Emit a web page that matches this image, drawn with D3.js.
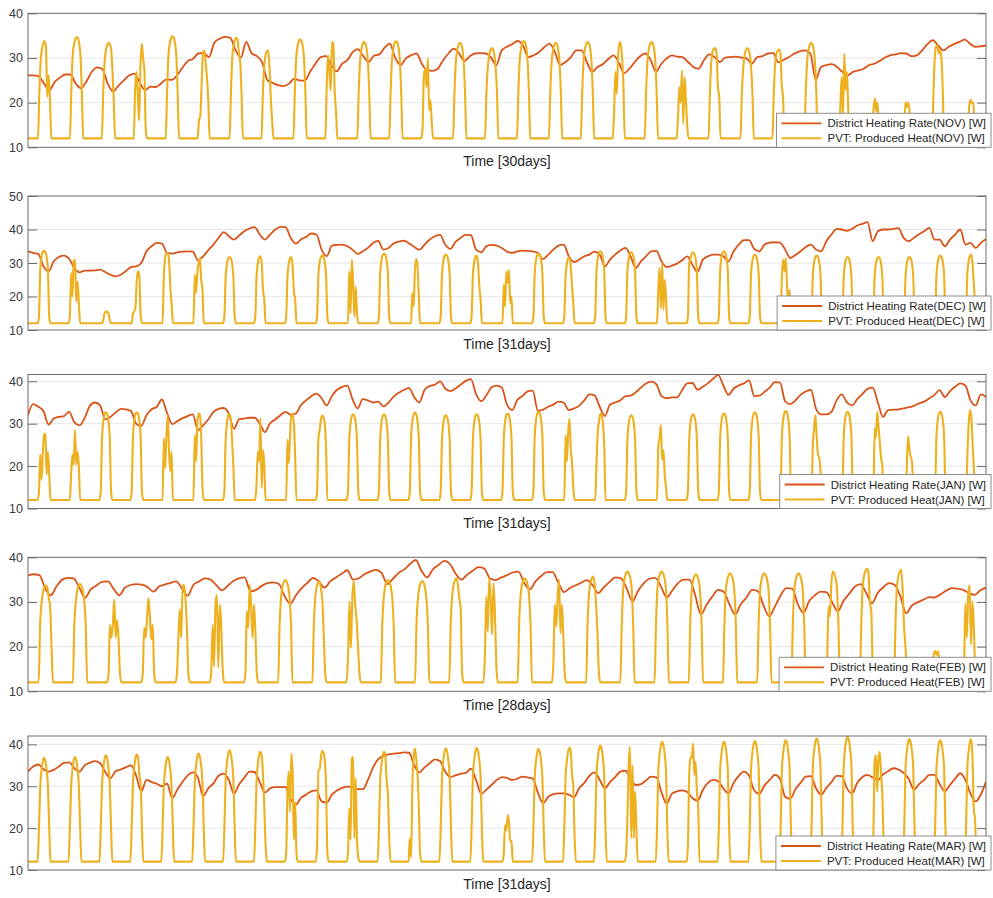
<!DOCTYPE html>
<html>
<head>
<meta charset="utf-8">
<script src="https://cdn.jsdelivr.net/npm/d3@7"></script>
<style>
  html, body { margin: 0; padding: 0; background: #fff; }
  svg { display: block; font-family: "Liberation Sans", Arial, Helvetica, sans-serif; }
</style>
</head>
<body>
<svg id="chart" width="993" height="898"></svg>
<script>
// ---- months shown, one panel each ----
const monthCodes = ["NOV", "DEC", "JAN", "FEB", "MAR"];
const monthDays = [30, 31, 31, 28, 31];
const yUpper = [40, 50, 41.6, 40, 42];
const yTickValues = [
  [10, 20, 30, 40],
  [10, 20, 30, 40, 50],
  [10, 20, 30, 40],
  [10, 20, 30, 40],
  [10, 20, 30, 40]
];

// District heating rate [W], sampled at these hours of every day
const heatSampleHours = [0, 4, 8, 12, 16, 20];

const heatNov = [
  [26.1, 26.1, 25.9, 24.3, 22.8, 24.6], [25.6, 26.3, 26.3, 24.2, 23.2, 24.8],
  [26.9, 27.9, 27.5, 24.2, 22.5, 23.8], [25.0, 26.1, 26.5, 24.5, 22.8, 23.6],
  [23.5, 24.3, 25.2, 25.1, 26.1, 27.8], [29.3, 29.8, 31.0, 31.1, 30.2, 33.4],
  [34.3, 34.7, 34.5, 31.7, 30.1, 33.6], [31.1, 30.4, 29.0, 25.0, 24.4, 23.9],
  [23.7, 24.2, 25.3, 25.0, 24.9, 26.9], [28.7, 30.2, 30.4, 28.4, 27.0, 28.7],
  [29.5, 31.3, 32.0, 30.4, 29.1, 30.5], [30.8, 32.3, 33.2, 30.0, 28.4, 29.9],
  [30.6, 31.0, 28.7, 27.2, 27.1, 27.6], [29.5, 31.0, 32.1, 31.0, 29.3, 30.4],
  [31.0, 31.1, 31.0, 30.1, 28.4, 31.7], [32.5, 33.1, 33.8, 32.8, 30.2, 30.6],
  [31.3, 32.4, 33.2, 31.3, 28.4, 29.1], [30.2, 31.7, 31.7, 29.1, 26.9, 28.0],
  [28.6, 29.7, 30.6, 29.0, 26.6, 27.6], [29.1, 30.4, 31.0, 29.5, 26.9, 28.7],
  [29.9, 30.6, 30.3, 30.2, 29.1, 28.0], [27.6, 29.5, 30.8, 30.2, 29.1, 30.1],
  [30.2, 30.3, 30.1, 29.9, 28.7, 30.2], [30.4, 31.0, 31.1, 29.0, 29.6, 30.2],
  [31.0, 31.5, 31.7, 31.0, 25.1, 28.0], [28.4, 28.6, 28.0, 26.9, 26.1, 26.9],
  [27.2, 27.6, 28.4, 28.7, 29.3, 30.1], [30.6, 30.8, 31.1, 31.0, 30.4, 30.6],
  [31.7, 33.1, 34.0, 32.8, 31.7, 32.5], [33.1, 33.6, 34.1, 33.2, 32.5, 32.6]
];
const heatDec = [
  [33.5, 33.0, 32.7, 29.0, 27.5, 30.5], [31.8, 32.2, 31.2, 28.5, 27.2, 27.7],
  [27.7, 27.8, 28.0, 27.3, 26.5, 26.0], [26.5, 27.6, 28.8, 29.0, 30.0, 33.5],
  [35.0, 36.0, 35.8, 33.0, 32.8, 33.2], [33.4, 33.5, 33.4, 30.8, 32.0, 33.8],
  [35.5, 37.5, 39.2, 38.0, 37.0, 38.2], [39.5, 40.3, 40.7, 38.5, 37.0, 38.5],
  [40.0, 40.8, 40.7, 37.5, 35.8, 37.0], [37.8, 38.8, 38.5, 34.0, 32.0, 35.2],
  [35.4, 35.5, 35.0, 34.0, 32.7, 33.5], [34.5, 36.0, 36.6, 34.0, 34.5, 35.8],
  [36.4, 36.7, 35.8, 34.8, 34.0, 35.5], [37.0, 38.0, 38.4, 35.5, 34.2, 36.3],
  [37.5, 38.4, 38.3, 34.0, 33.2, 35.0], [35.4, 35.2, 34.5, 33.4, 33.0, 33.5],
  [33.7, 33.6, 33.5, 33.0, 31.2, 32.5], [34.0, 35.2, 35.5, 32.0, 30.3, 31.0],
  [32.0, 32.5, 33.4, 32.5, 29.0, 31.0], [32.5, 33.7, 34.5, 32.0, 28.5, 30.5],
  [32.0, 33.5, 33.6, 30.5, 28.8, 29.2], [29.8, 30.8, 32.0, 29.5, 27.3, 31.0],
  [32.0, 32.5, 32.5, 32.0, 30.5, 33.5], [35.5, 36.8, 36.8, 34.2, 33.5, 35.5],
  [36.1, 36.2, 36.1, 34.0, 31.5, 32.4], [33.5, 34.8, 35.5, 34.0, 33.5, 36.5],
  [38.5, 40.2, 40.0, 39.6, 40.2, 41.2], [41.7, 42.2, 36.5, 39.5, 40.0, 40.0],
  [40.2, 40.4, 37.5, 36.5, 37.5, 38.6], [39.5, 40.5, 37.0, 37.0, 35.0, 37.0],
  [38.5, 40.0, 35.5, 36.0, 34.5, 36.0]
];
const heatJan = [
  [32.0, 34.6, 34.0, 33.0, 29.8, 31.2], [31.6, 31.8, 32.8, 30.3, 29.6, 31.3],
  [34.2, 35.0, 34.3, 31.0, 31.6, 32.6], [33.5, 33.4, 33.0, 30.0, 29.5, 32.0],
  [33.4, 34.0, 35.7, 32.5, 29.9, 30.6], [31.3, 31.8, 32.2, 28.5, 29.6, 31.0],
  [32.8, 33.5, 33.7, 32.3, 28.8, 31.1], [31.2, 31.4, 31.4, 30.0, 28.0, 30.1],
  [31.0, 32.0, 32.8, 32.1, 32.4, 34.4], [35.5, 36.5, 37.1, 36.0, 34.3, 36.5],
  [38.0, 38.7, 39.0, 35.8, 33.6, 35.8], [35.5, 35.0, 35.2, 34.1, 35.0, 36.4],
  [37.3, 38.0, 38.4, 36.2, 35.0, 38.0], [38.9, 39.2, 40.0, 38.3, 37.7, 38.3],
  [39.2, 40.1, 40.5, 37.0, 35.3, 36.7], [38.6, 39.0, 38.5, 34.5, 33.2, 35.6],
  [36.5, 37.6, 37.8, 33.0, 33.3, 34.0], [34.5, 35.2, 35.0, 33.2, 33.6, 34.2],
  [35.5, 36.9, 36.7, 34.0, 31.8, 34.5], [35.0, 35.5, 36.5, 36.6, 37.4, 38.5],
  [39.5, 39.9, 39.3, 36.5, 36.0, 36.2], [36.2, 37.9, 39.5, 39.6, 38.0, 38.7],
  [39.5, 40.6, 41.5, 39.0, 36.8, 38.3], [39.0, 39.5, 40.2, 36.5, 36.6, 37.5],
  [38.5, 39.8, 39.7, 35.3, 34.6, 35.5], [36.8, 37.6, 38.0, 33.5, 32.2, 32.2],
  [32.8, 35.5, 36.9, 35.0, 34.3, 35.8], [37.0, 38.2, 38.5, 35.0, 31.6, 33.2],
  [33.3, 33.4, 33.6, 33.9, 34.2, 34.8], [35.2, 36.0, 36.8, 37.9, 36.3, 37.7],
  [38.7, 39.5, 39.0, 35.5, 34.3, 36.9]
];
const heatFeb = [
  [35.9, 36.2, 36.0, 33.1, 31.5, 33.5], [35.0, 35.4, 35.3, 33.2, 30.9, 32.8],
  [33.7, 34.5, 34.6, 33.0, 31.5, 33.2], [33.8, 34.0, 33.9, 33.3, 32.3, 33.5],
  [33.9, 34.3, 34.6, 33.0, 31.4, 33.8], [34.6, 35.3, 35.0, 33.8, 32.6, 33.6],
  [34.7, 35.3, 35.5, 32.4, 32.7, 33.6], [34.2, 34.4, 34.0, 31.3, 29.6, 31.5],
  [33.1, 34.3, 35.4, 34.6, 33.2, 34.6], [35.5, 36.3, 37.1, 35.0, 35.3, 36.2],
  [36.8, 37.2, 36.5, 34.0, 35.2, 36.5], [37.3, 38.5, 39.4, 37.0, 35.5, 37.3],
  [38.3, 39.2, 38.5, 36.3, 35.0, 36.1], [37.0, 37.8, 37.5, 35.3, 34.9, 35.5],
  [36.0, 36.6, 36.8, 34.3, 32.8, 34.6], [35.8, 36.7, 36.7, 34.3, 32.2, 33.1],
  [33.7, 34.3, 34.9, 33.8, 32.0, 33.3], [34.5, 35.5, 35.3, 33.0, 30.2, 32.5],
  [34.2, 35.2, 35.4, 33.5, 31.0, 32.6], [34.2, 35.0, 35.0, 31.5, 27.2, 29.4],
  [31.2, 32.7, 32.3, 29.5, 27.2, 29.5], [31.0, 32.7, 32.4, 29.2, 26.8, 29.0],
  [31.5, 33.1, 33.0, 29.5, 27.6, 30.2], [31.5, 32.3, 32.2, 30.0, 27.9, 30.2],
  [31.8, 33.4, 34.0, 32.0, 29.7, 32.0], [33.3, 34.2, 33.8, 31.2, 27.5, 29.2],
  [29.9, 30.5, 31.1, 31.0, 31.7, 32.5], [33.1, 33.0, 32.7, 32.0, 31.6, 32.6]
];
const heatMar = [
  [33.5, 34.7, 35.2, 34.1, 33.5, 33.9], [34.7, 35.6, 35.7, 34.3, 33.5, 35.0],
  [35.6, 36.0, 35.5, 33.4, 31.9, 33.6], [34.0, 34.5, 35.0, 32.5, 28.8, 31.5],
  [31.0, 30.6, 30.0, 30.6, 27.2, 29.2], [31.0, 32.6, 33.3, 32.0, 27.6, 29.5],
  [30.7, 32.5, 33.0, 31.5, 28.2, 30.5], [32.0, 33.5, 33.4, 31.0, 28.5, 29.5],
  [29.8, 29.8, 29.8, 26.9, 25.6, 27.2], [28.0, 28.8, 29.0, 26.4, 26.1, 28.0],
  [29.0, 29.6, 29.9, 29.8, 29.3, 29.3], [31.5, 34.5, 36.5, 37.2, 37.6, 37.8],
  [37.9, 38.1, 38.0, 35.0, 33.3, 34.5], [35.5, 36.4, 36.0, 33.5, 32.2, 32.6],
  [33.0, 33.2, 34.2, 31.5, 28.2, 29.2], [30.3, 31.5, 32.2, 32.0, 31.5, 31.8],
  [32.3, 32.1, 31.8, 28.5, 25.9, 27.5], [28.1, 28.3, 28.3, 28.0, 27.4, 29.5],
  [30.8, 32.5, 33.3, 31.5, 29.5, 31.0], [32.2, 33.5, 33.7, 31.8, 30.3, 30.5],
  [31.4, 32.3, 32.1, 28.5, 25.8, 28.2], [28.8, 29.0, 28.6, 27.2, 26.5, 29.1],
  [30.8, 31.5, 31.2, 29.5, 28.3, 30.8], [32.5, 33.5, 32.5, 29.0, 28.2, 30.2],
  [31.5, 32.7, 31.8, 27.5, 27.0, 29.3], [30.8, 32.3, 32.4, 29.5, 28.0, 29.6],
  [31.0, 32.5, 32.4, 29.5, 28.3, 30.8], [32.2, 32.7, 32.1, 31.5, 32.8, 33.6],
  [34.3, 34.0, 33.2, 31.8, 29.2, 30.5], [31.5, 32.7, 32.7, 30.5, 28.8, 30.3],
  [31.8, 33.1, 31.5, 28.2, 26.4, 28.0]
];
// value at the very end of each month
const heatMonthEnd = [32.8, 37.2, 36.3, 33.2, 31.1];

// PVT produced heat [W]: night level, and daytime samples at these hours of every day
const pvtNightLevel = 12;
const pvtSampleHours = [8.5, 9.5, 10.5, 11.5, 12.5, 13.5, 14.5, 15.5, 16.5];
const pvtNightHours = [7.5, 17.5];

const pvtNov = [
  [22, 29.3, 32, 33.3, 33.8, 32.5, 21.3, 26.1, 21],
  [22, 30.2, 32.9, 34.2, 34.7, 34.4, 33.2, 30.2, 22],
  [22, 28.9, 31.6, 32.9, 33.4, 33.1, 31.9, 27, 20],
  [22.8, 26.9, 22, 16, 28, 33.2, 30, 27.2, 14],
  [22, 30.4, 33.1, 34.4, 34.9, 34.6, 33.4, 30.4, 22],
  [16, 17, 24, 31, 31.7, 29, 25.7, 20.5, 12],
  [22, 30, 32.7, 34, 34.5, 34.2, 31, 29, 22],
  [22, 28, 30.5, 31.5, 31.7, 28, 20.9, 16, 12],
  [22, 29.7, 32.4, 33.7, 34.2, 33.9, 32.7, 29.7, 22],
  [24, 30.6, 27, 22.8, 33.6, 33, 22.7, 18, 12],
  [22, 29.1, 31.8, 33.1, 33.6, 33.3, 32.1, 29.1, 22],
  [22, 29.3, 32, 33.3, 33.8, 33.5, 32.3, 29.3, 22],
  [14, 26, 27.6, 23.5, 29.9, 18.3, 20.5, 15.3, 12],
  [22, 28.9, 31.6, 32.9, 33.4, 33.1, 31.9, 28.9, 22],
  [22, 27.7, 30.4, 31.7, 32.2, 31.9, 30.7, 27.7, 22],
  [22, 29.3, 32, 33.3, 33.8, 33.5, 32.3, 29.3, 22],
  [22, 28.9, 31.6, 32.9, 33.4, 33.1, 31.9, 28.9, 22],
  [22, 29.1, 31.8, 33.1, 33.6, 33.3, 32.1, 29.1, 22],
  [18, 26.9, 22, 30.4, 33.6, 33, 30, 24, 12],
  [22, 29.1, 31.8, 33.1, 33.6, 33.3, 32.1, 29.1, 22],
  [16.8, 23.5, 20, 27.2, 15.3, 25.7, 20.5, 14.6, 12],
  [22, 29, 31.5, 32, 32.2, 31, 23.5, 21.3, 12],
  [22, 27.7, 30.4, 31.7, 32.2, 31.9, 30.7, 27.7, 22],
  [22, 28.5, 31, 31.7, 31.9, 31, 23.9, 21, 12],
  [22, 28.9, 31.6, 32.9, 33.4, 33.1, 31.9, 28.9, 22],
  [12.5, 14, 19, 25.7, 16.8, 31, 22.8, 26.9, 18.3],
  [12, 12, 15, 18.7, 20.9, 18, 20, 14, 12],
  [12, 12, 14, 20.1, 19, 20, 18, 13, 12],
  [22, 30, 32.5, 32.8, 31, 31.7, 30, 23, 12],
  [12, 12, 15, 19.5, 20.7, 19.8, 20, 14, 12]
];
const pvtDec = [
  [14, 27.7, 31.7, 33.3, 33.7, 33.3, 31.7, 27.7, 14],
  [14, 27, 20, 30.5, 31, 18.5, 24.5, 18, 12],
  [12, 12, 13, 15, 15.5, 15.5, 15, 13, 12],
  [12, 15, 15.5, 17, 25, 27.5, 26, 14, 12],
  [12, 26, 31.5, 33, 32.8, 31, 23, 18, 12],
  [12, 26.5, 21, 27, 30, 31.5, 25, 22, 12],
  [14, 25.8, 29.8, 31.4, 31.8, 31.4, 29.8, 25.8, 14],
  [14, 26, 30, 31.6, 32, 30, 22, 19, 12],
  [14, 25.8, 29.8, 31.4, 31.8, 29, 21.5, 19, 12],
  [14, 26.2, 30.2, 31.8, 32.2, 31.8, 30.2, 26.2, 14],
  [12, 27.5, 15, 31, 24, 14, 23, 15, 12],
  [14, 26.8, 30.8, 32.4, 32.8, 32.4, 30.8, 26.8, 14],
  [12, 12, 21, 17, 28, 31.2, 29, 20, 12],
  [14, 26.5, 30.5, 32.1, 32.5, 32.1, 30.5, 26.5, 14],
  [14, 26.2, 30.2, 31.8, 32.2, 30, 23, 19, 12],
  [12, 23.5, 17, 27.5, 24, 28, 18, 20, 12],
  [14, 26.8, 30.8, 32.4, 32.8, 32.4, 30.8, 26.8, 14],
  [14, 25.8, 29.8, 31.4, 31.8, 29, 23, 18, 12],
  [14, 27.5, 31.5, 33.1, 33.5, 33.1, 31.5, 27.5, 14],
  [14, 27.2, 31.2, 32.8, 33.2, 32.8, 31.2, 27.2, 14],
  [12, 22, 28.5, 16.5, 30, 16, 25, 20, 12],
  [14, 30, 31.2, 32.8, 33.2, 32.8, 31.2, 27.2, 14],
  [14, 27.5, 31.5, 33.1, 33.5, 33.1, 31.5, 27.5, 14],
  [14, 26.5, 30.5, 32.1, 32.5, 32.1, 30.5, 26.5, 14],
  [12, 26, 31, 27.5, 31.5, 23, 17, 22, 12],
  [14, 26.2, 30.2, 31.8, 32.2, 31.8, 30.2, 26.2, 14],
  [14, 25.8, 29.8, 31.4, 31.8, 31.4, 29.8, 25.8, 14],
  [14, 25.8, 29.8, 31.4, 31.8, 31.4, 29.8, 25.8, 14],
  [14, 25.8, 29.8, 31.4, 31.8, 31.4, 29.8, 25.8, 14],
  [14, 26.2, 30.2, 31.8, 32.2, 31.8, 30.2, 26.2, 14],
  [14, 26.5, 30.5, 32.1, 32.5, 30, 24, 18, 12]
];
const pvtJan = [
  [14, 22.7, 16.8, 23, 27.7, 27.3, 18, 23.4, 18],
  [12, 18, 22.7, 20.3, 28.5, 20.3, 23.4, 19.9, 12],
  [14, 26.7, 30.7, 32.3, 32.7, 32.3, 30.7, 26.7, 14],
  [14, 26.7, 30.7, 32.3, 32.7, 32.3, 30.7, 26.7, 14],
  [12, 26.6, 19.5, 27, 32, 23.8, 18.8, 23.4, 12],
  [12, 27.3, 21.1, 30, 32.4, 32, 27.3, 15, 12],
  [14, 26, 30, 32, 32.2, 31, 26, 20, 12],
  [12, 16, 23.4, 21.1, 31.3, 14.8, 23.8, 20.3, 12],
  [12, 26.2, 20.7, 27, 32.4, 32, 30, 22, 12],
  [14, 26.2, 28.5, 31, 31.9, 31.5, 30, 24, 12],
  [14, 26.2, 30.2, 31.8, 32.2, 31.8, 30.2, 26.2, 14],
  [14, 26.2, 30.2, 31.8, 32.2, 31.8, 30.2, 26.2, 14],
  [14, 26.6, 30.6, 32.2, 32.6, 32.2, 30.6, 26.6, 14],
  [14, 26, 30, 31.6, 32, 31.6, 30, 26, 14],
  [14, 26.2, 30.2, 31.8, 32.2, 31.8, 30.2, 26.2, 14],
  [14, 26.4, 30.4, 32, 32.4, 32, 30.4, 26.4, 14],
  [14, 26.8, 30.8, 32.4, 32.8, 32.4, 30.8, 26.8, 14],
  [12, 27.3, 21.1, 28.1, 31.1, 24.2, 20.7, 15, 12],
  [12, 21, 28.1, 30.5, 32.4, 32, 30, 25, 12],
  [14, 26, 30, 31.6, 32, 31.6, 30, 26, 14],
  [12, 24.6, 26.6, 29.7, 21.5, 23.8, 18, 15, 12],
  [14, 26.2, 30.2, 31.8, 32.2, 31.8, 30.2, 26.2, 14],
  [14, 26.4, 30.4, 32, 32.4, 32, 30.4, 26.4, 14],
  [14, 26.7, 30.7, 32.3, 32.7, 32.3, 30.7, 26.7, 14],
  [14, 27, 31, 32.6, 33, 32.6, 31, 27, 14],
  [12, 25, 28.9, 32, 27, 22.7, 21.9, 18.8, 12],
  [14, 26.8, 30.8, 32.4, 32.8, 32.4, 30.8, 26.8, 14],
  [12, 28.9, 26.6, 32.8, 29.3, 25.8, 21.9, 20, 12],
  [12, 12, 20, 27, 24, 22.3, 21.1, 15, 12],
  [14, 26.8, 30.8, 32.4, 32.8, 32.4, 30.8, 26.8, 14],
  [12, 22, 29.7, 33.2, 32, 26, 20, 15, 12]
];
const pvtFeb = [
  [25, 29.7, 32.2, 33.3, 33.7, 33.3, 31, 29, 20],
  [25, 30, 32.5, 33.6, 34, 33.6, 32.5, 30, 25],
  [14, 24.9, 22, 24.9, 30.5, 22, 26, 22, 14],
  [14, 24.2, 22, 26.4, 30.9, 26.8, 21.6, 24.9, 14],
  [14, 22, 28.3, 22, 33.8, 33.8, 30.5, 24, 14],
  [14, 24.9, 15.6, 29.4, 31.6, 15.3, 29.4, 25.3, 15.3],
  [14, 27.9, 24.2, 33.8, 29.4, 22, 29.4, 23.4, 14],
  [25, 30.9, 33.4, 34.5, 34.9, 34.5, 33.4, 30.9, 25],
  [25, 31, 33.4, 34.4, 34.6, 33, 30.1, 22.3, 14],
  [18, 30.1, 19.7, 30.9, 34.6, 29.4, 26, 20, 14],
  [25, 30.9, 33.4, 34.5, 34.9, 34.5, 33.4, 30.9, 25],
  [25, 30.7, 33.2, 34.3, 34.7, 34.3, 33.2, 30.7, 25],
  [25, 31.3, 33.8, 34.9, 35.3, 34, 30.9, 28.6, 14],
  [18, 31.2, 23.4, 35.3, 31, 22.7, 34.2, 27.9, 16],
  [25, 31.3, 33.8, 34.9, 35.3, 34.9, 33.8, 31.3, 25],
  [16, 29.4, 24.5, 31, 35, 23, 29.4, 22.3, 14],
  [25, 31.7, 34.2, 35.3, 35.7, 34, 29.4, 22.7, 14],
  [25, 32.8, 35.3, 36.4, 36.8, 36.4, 35.3, 32.8, 25],
  [25, 32.8, 35.3, 36.4, 36.8, 36.4, 35.3, 32.8, 25],
  [25, 32.2, 34.7, 35.8, 36.2, 35.8, 34.7, 32.2, 25],
  [25, 32.4, 34.9, 36, 36.4, 36, 34.9, 32.4, 25],
  [25, 32.4, 34.9, 36, 36.4, 36, 34.9, 32.4, 25],
  [25, 32.4, 34.9, 36, 36.4, 36, 34.9, 32.4, 25],
  [16, 29, 26.8, 34, 36.8, 36.4, 35.3, 32.8, 25],
  [25, 33.4, 35.9, 37, 37.4, 36.7, 30.1, 28, 16],
  [25, 33.2, 35.7, 36.8, 37.2, 33, 24.6, 20, 14],
  [12, 12, 14, 18.5, 19, 18.2, 19, 15, 12],
  [14, 29.7, 22, 31.6, 33.8, 20.5, 30.1, 24.2, 14]
];
const pvtMar = [
  [20, 29.8, 33.8, 36, 36.8, 36, 33.8, 29.8, 20],
  [20, 30, 34, 36.2, 37, 36.2, 34, 30, 20],
  [20, 30.4, 34.4, 36.6, 37.4, 36.6, 34.4, 30.4, 20],
  [20, 30.6, 34.6, 36.8, 37.6, 36.8, 32.7, 30.6, 20],
  [20, 30, 34, 36.2, 37, 36.2, 34, 30, 20],
  [20, 30.8, 34.8, 37, 37.8, 37, 34.8, 30.8, 20],
  [20, 31.6, 35.6, 37.8, 38.6, 37.8, 35.6, 31.6, 20],
  [20, 31.2, 35.2, 37.4, 38.2, 37.4, 32.7, 25.1, 16],
  [14, 28.7, 33.5, 23.9, 37.8, 33.5, 17.2, 26.3, 14],
  [16, 33.9, 34, 37, 38.4, 38, 36, 30, 14],
  [14, 24.7, 17.2, 36.7, 37, 17.6, 31.9, 17.2, 13],
  [20, 31.2, 35.2, 37.4, 38.2, 37.4, 31.5, 28, 18],
  [17.6, 13, 30, 37, 39, 36.5, 33, 25.1, 14],
  [20, 32, 36, 38.2, 39, 38.2, 36, 32, 20],
  [20, 32.2, 36.2, 38.4, 39.2, 38.4, 36.2, 32.2, 20],
  [12, 14, 20.7, 19.5, 23.1, 21.5, 16.8, 17, 12],
  [20, 31.9, 35.9, 38.1, 38.9, 38.1, 35.9, 31.9, 20],
  [20, 32.2, 36.2, 38.4, 39.2, 38.4, 32.7, 30, 18],
  [20, 32.7, 36.7, 38.9, 39.7, 38.9, 36.7, 32.7, 20],
  [14, 22.3, 35, 39.4, 17.6, 35, 17.6, 28.7, 20],
  [20, 33.6, 37.6, 39.8, 40.6, 39.8, 37.6, 33.6, 20],
  [16, 32.7, 36.7, 37, 40.2, 32.7, 35.9, 28.7, 24.7],
  [20, 33.6, 37.6, 39.8, 40.6, 39.8, 37.6, 33.6, 20],
  [20, 33.8, 37.8, 40, 40.8, 40, 37.8, 33.8, 20],
  [20, 34, 38, 40.2, 41, 40.2, 38, 34, 20],
  [20, 34.4, 38.4, 40.6, 41.4, 40.6, 38.4, 34.4, 20],
  [20, 34.8, 38.8, 41, 41.8, 41, 38.8, 34.8, 20],
  [18, 35.9, 37.4, 28.7, 36.7, 38.2, 32.7, 28, 16],
  [20, 34.3, 38.3, 40.5, 41.3, 40.5, 38.3, 34.3, 20],
  [20, 34, 38, 40.2, 41, 40.2, 38, 34, 20],
  [20, 34.3, 38.3, 40.5, 41.3, 37, 24.7, 22, 14]
];

const heatByMonth = [heatNov, heatDec, heatJan, heatFeb, heatMar];
const pvtByMonth = [pvtNov, pvtDec, pvtJan, pvtFeb, pvtMar];

// ---- layout ----
const plotLeft = 28, plotRight = 986, plotHeight = 134;
const panelTops = [13.3, 196, 374.5, 557.3, 736];
const heatColor = "#D95319", pvtColor = "#EDB120";
const boxColor = "#6b6b6b", gridColor = "#e6e6e6", textColor = "#3a3a3a";

const svg = d3.select("#chart");

// (hour, value) points of a month's heating curve
function heatSeries(days, end) {
  const pts = [];
  days.forEach((day, d) => day.forEach((v, k) => pts.push([d * 24 + heatSampleHours[k], v])));
  pts.push([days.length * 24, end]);
  return pts;
}
// (hour, value) points of a month's PVT curve: night level between daytime samples
function pvtSeries(days) {
  const pts = [[0, pvtNightLevel]];
  days.forEach((day, d) => {
    pts.push([d * 24 + pvtNightHours[0], pvtNightLevel]);
    day.forEach((v, k) => pts.push([d * 24 + pvtSampleHours[k], v]));
    pts.push([d * 24 + pvtNightHours[1], pvtNightLevel]);
  });
  pts.push([days.length * 24, pvtNightLevel]);
  return pts;
}

monthCodes.forEach((code, i) => {
  const top = panelTops[i], bottom = top + plotHeight;
  const x = d3.scaleLinear().domain([0, monthDays[i] * 24]).range([plotLeft, plotRight]);
  const y = d3.scaleLinear().domain([10, yUpper[i]]).range([bottom, top]);
  const g = svg.append("g");

  // horizontal grid
  g.selectAll("line.grid")
    .data(yTickValues[i].filter(v => v > 10 && v < yUpper[i]))
    .join("line")
    .attr("x1", plotLeft).attr("x2", plotRight)
    .attr("y1", d => y(d)).attr("y2", d => y(d))
    .attr("stroke", gridColor).attr("stroke-width", 1);

  // clipped data lines
  const clipId = "clip" + i;
  svg.append("clipPath").attr("id", clipId)
    .append("rect").attr("x", plotLeft).attr("y", top)
    .attr("width", plotRight - plotLeft).attr("height", plotHeight);

  const line = d3.line().x(d => x(d[0])).y(d => y(d[1])).curve(d3.curveMonotoneX);
  const lines = g.append("g").attr("clip-path", `url(#${clipId})`);
  lines.append("path")
    .datum(heatSeries(heatByMonth[i], heatMonthEnd[i]))
    .attr("d", line).attr("fill", "none")
    .attr("stroke", heatColor).attr("stroke-width", 1.8).attr("stroke-linejoin", "round");
  lines.append("path")
    .datum(pvtSeries(pvtByMonth[i]))
    .attr("d", line).attr("fill", "none")
    .attr("stroke", pvtColor).attr("stroke-width", 2.1).attr("stroke-linejoin", "round");

  // y axes: labelled left, inner ticks on both sides
  const left = g.append("g").attr("transform", `translate(${plotLeft},0)`)
    .call(d3.axisLeft(y).tickValues(yTickValues[i]).tickFormat(d3.format("d"))
      .tickSizeInner(-9).tickSizeOuter(0).tickPadding(5));
  left.select(".domain").remove();
  left.selectAll(".tick line").attr("stroke", boxColor);
  left.selectAll(".tick text").attr("fill", textColor).style("font-size", "12.5px")
    .style("font-family", "'Liberation Sans', Arial, sans-serif");

  const right = g.append("g").attr("transform", `translate(${plotRight},0)`)
    .call(d3.axisRight(y).tickValues(yTickValues[i]).tickFormat("").tickSizeInner(-9).tickSizeOuter(0));
  right.select(".domain").remove();
  right.selectAll(".tick line").attr("stroke", boxColor);

  // box
  g.append("rect").attr("x", plotLeft).attr("y", top)
    .attr("width", plotRight - plotLeft).attr("height", plotHeight)
    .attr("fill", "none").attr("stroke", boxColor).attr("stroke-width", 1);

  // x label
  g.append("text").attr("x", (plotLeft + plotRight) / 2).attr("y", bottom + 19)
    .attr("text-anchor", "middle").attr("fill", "#262626")
    .style("font-size", "14px")
    .text(`Time [${monthDays[i]}days]`);

  // legend
  const labels = [`District Heating Rate(${code}) [W]`, `PVT: Produced Heat(${code}) [W]`];
  const colors = [heatColor, pvtColor];
  const lg = g.append("g");
  const box = lg.append("rect").attr("fill", "#fff").attr("stroke", "#8c8c8c").attr("stroke-width", 1);
  const texts = labels.map((t, k) => lg.append("text")
    .attr("y", bottom - 34 + 10 + 15 * k).attr("dy", "0.35em")
    .attr("fill", "#262626").style("font-size", "11.5px").text(t));
  const textW = d3.max(texts, t => t.node().getComputedTextLength());
  const legendRight = 991;
  const legendLeft = legendRight - (51 + textW + 5);
  box.attr("x", legendLeft).attr("y", bottom - 34).attr("width", legendRight - legendLeft).attr("height", 34);
  texts.forEach(t => t.attr("x", legendLeft + 51));
  colors.forEach((c, k) => lg.append("line")
    .attr("x1", legendLeft + 5).attr("x2", legendLeft + 45)
    .attr("y1", bottom - 34 + 10 + 15 * k).attr("y2", bottom - 34 + 10 + 15 * k)
    .attr("stroke", c).attr("stroke-width", k === 0 ? 1.8 : 2.1));
});
</script>
</body>
</html>
